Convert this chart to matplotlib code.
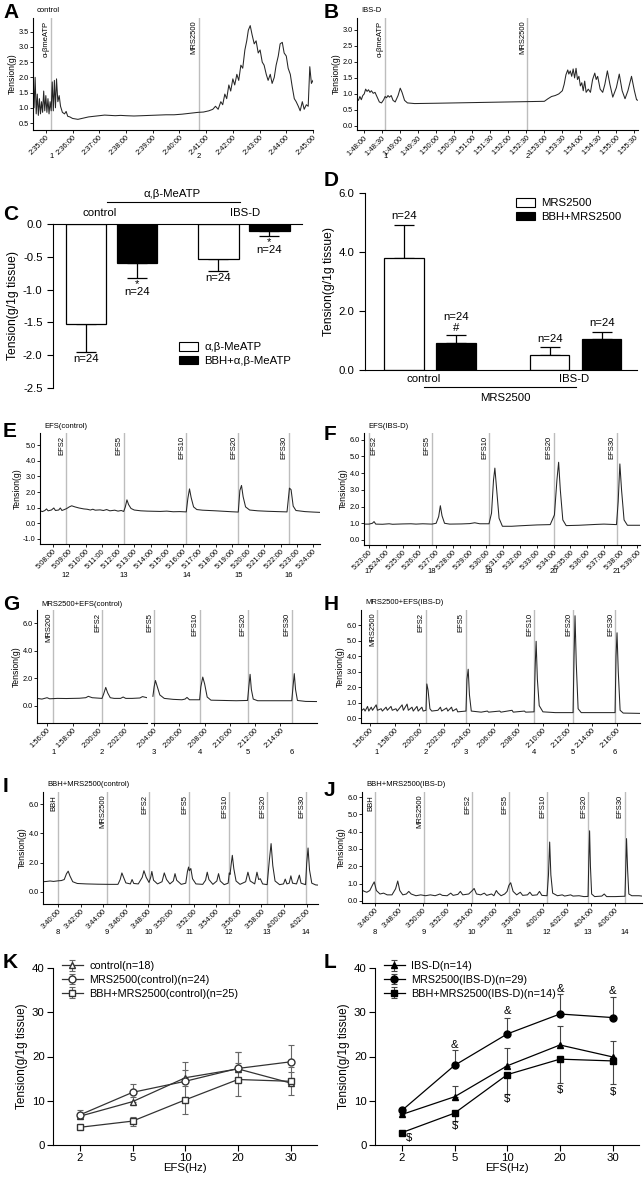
import numpy as np
import matplotlib
matplotlib.use("Agg")
import matplotlib.pyplot as plt
import matplotlib.transforms as mtrans
from matplotlib.patches import Patch

plt.rcParams['font.family'] = ['Liberation Sans', 'DejaVu Sans']
plt.rcParams['axes.linewidth'] = 0.8

W, H = 644, 1179
fig = plt.figure(figsize=(W / 100, H / 100), dpi=100)
FS = 8.2  # font size of the bar / curve panels

# ---------------- data ----------------
# A: control, alpha,beta-meATP then MRS2500 (minutes of 2:xx)
a_trace = [(34.52, 2.15), (34.56, 1.00), (34.60, 2.00), (34.64, 0.80), (34.68, 1.45), (34.72, 0.75),
           (34.76, 1.30), (34.80, 0.80), (34.84, 1.20), (34.88, 0.85), (34.92, 1.55), (34.96, 0.90),
           (35.00, 1.40), (35.04, 0.85), (35.08, 1.30), (35.12, 0.80), (35.16, 1.20), (35.20, 0.90),
           (35.24, 1.85), (35.28, 0.90), (35.32, 1.90), (35.36, 1.00), (35.40, 1.95), (35.45, 1.20),
           (35.50, 1.40), (35.55, 1.05), (35.62, 0.85), (35.70, 0.80), (35.76, 0.88), (35.82, 0.72),
           (35.90, 0.70), (36.00, 0.65), (36.20, 0.62), (36.40, 0.66), (36.60, 0.70), (36.80, 0.72),
           (37.00, 0.74), (37.20, 0.76), (37.40, 0.75), (37.60, 0.74), (37.80, 0.75), (38.00, 0.74),
           (38.30, 0.73), (38.60, 0.74), (38.90, 0.75), (39.20, 0.76), (39.50, 0.77), (39.80, 0.77),
           (40.10, 0.79), (40.40, 0.82), (40.70, 0.85), (40.90, 0.86), (41.10, 0.90), (41.25, 0.95),
           (41.35, 1.05), (41.45, 0.95), (41.55, 1.20), (41.62, 1.10), (41.70, 1.45), (41.77, 1.30),
           (41.85, 1.75), (41.92, 1.55), (42.00, 1.95), (42.07, 1.75), (42.15, 2.10), (42.22, 1.90),
           (42.30, 2.40), (42.37, 2.30), (42.45, 2.90), (42.52, 3.20), (42.58, 3.55), (42.65, 3.70),
           (42.72, 3.40), (42.80, 3.10), (42.87, 3.20), (42.95, 2.80), (43.02, 2.90), (43.10, 2.50),
           (43.17, 2.40), (43.25, 2.10), (43.32, 1.90), (43.40, 2.10), (43.47, 1.80), (43.55, 2.00),
           (43.62, 2.40), (43.70, 2.70), (43.77, 3.10), (43.85, 3.15), (43.92, 2.80), (44.00, 2.70),
           (44.07, 2.30), (44.15, 2.10), (44.22, 1.70), (44.30, 1.30), (44.37, 1.20), (44.45, 1.05),
           (44.52, 0.90), (44.60, 1.20), (44.67, 0.95), (44.75, 1.10), (44.82, 1.05), (44.88, 2.35),
           (44.94, 1.80), (45.00, 1.90)]
a_ticks = [35, 36, 37, 38, 39, 40, 41, 42, 43, 44, 45]
a_ticklabels = ["2:35:00", "2:36:00", "2:37:00", "2:38:00", "2:39:00", "2:40:00",
                "2:41:00", "2:42:00", "2:43:00", "2:44:00", "2:45:00"]
a_marks = [35.2, 40.73]
a_names = ["α-βmeATP", "MRS2500"]
a_nums = ["1", "2"]

# B: IBS-D (minutes of 1:xx)
b_trace = [(47.80, 0.85), (47.84, 0.80), (47.88, 0.92), (47.92, 0.82), (47.96, 0.95), (48.00, 1.00),
           (48.04, 1.15), (48.08, 1.08), (48.12, 1.13), (48.16, 1.05), (48.20, 1.10), (48.25, 1.02),
           (48.30, 1.05), (48.36, 0.90), (48.42, 0.75), (48.48, 0.72), (48.54, 0.82), (48.58, 0.92),
           (48.62, 0.88), (48.66, 0.95), (48.70, 0.90), (48.75, 0.95), (48.80, 0.80), (48.86, 0.75),
           (48.94, 0.95), (49.00, 1.18), (49.05, 1.05), (49.12, 0.80), (49.20, 0.72), (49.40, 0.70),
           (50.00, 0.71), (50.50, 0.72), (51.00, 0.73), (51.50, 0.74), (52.00, 0.75), (52.50, 0.76),
           (53.00, 0.77), (53.10, 0.85), (53.20, 0.92), (53.30, 0.95), (53.40, 1.00), (53.45, 1.05),
           (53.50, 1.10), (53.55, 1.30), (53.60, 1.60), (53.65, 1.75), (53.68, 1.62), (53.72, 1.72),
           (53.76, 1.55), (53.80, 1.78), (53.84, 1.50), (53.88, 1.80), (53.92, 1.45), (53.96, 1.55),
           (54.00, 1.25), (54.04, 1.35), (54.08, 1.10), (54.12, 1.40), (54.16, 1.05), (54.22, 1.15),
           (54.28, 1.05), (54.34, 1.45), (54.40, 1.65), (54.44, 1.45), (54.48, 1.55), (54.55, 1.15),
           (54.62, 1.05), (54.68, 1.30), (54.75, 1.72), (54.82, 1.30), (54.90, 0.90), (55.00, 1.20),
           (55.08, 1.62), (55.16, 1.10), (55.24, 0.85), (55.32, 1.10), (55.42, 1.55), (55.50, 1.10),
           (55.56, 0.82), (55.60, 0.80)]
b_ticks = [48.0, 48.5, 49.0, 49.5, 50.0, 50.5, 51.0, 51.5, 52.0, 52.5, 53.0, 53.5, 54.0, 54.5, 55.0, 55.5]
b_ticklabels = ["1:48:00", "1:48:30", "1:49:00", "1:49:30", "1:50:00", "1:50:30", "1:51:00", "1:51:30",
                "1:52:00", "1:52:30", "1:53:00", "1:53:30", "1:54:00", "1:54:30", "1:55:00", "1:55:30"]
b_marks = [48.58, 52.53]
b_names = ["α-βmeATP", "MRS2500"]
b_nums = ["1", "2"]

# C: alpha,beta-MeATP responses
groups = ["control", "IBS-D"]
c_plain = [-1.53, -0.54]
c_plain_err = [0.42, 0.17]
c_bbh = [-0.60, -0.10]
c_bbh_err = [0.23, 0.09]

# D: MRS2500 responses
d_plain = [3.78, 0.52]
d_plain_err = [1.14, 0.25]
d_bbh = [0.93, 1.05]
d_bbh_err = [0.25, 0.25]

# E: EFS(control) (minutes of 5:xx)
e_trace = [(7.20, 0.80), (7.35, 0.75), (7.50, 0.82), (7.60, 0.92), (7.70, 0.80), (7.90, 0.85), (8.05, 0.98),
           (8.15, 0.82), (8.35, 0.85), (8.45, 0.98), (8.55, 0.82), (8.70, 0.88), (8.85, 0.95), (9.00, 1.05),
           (9.15, 1.12), (9.35, 1.05), (9.60, 0.98), (9.90, 0.92), (10.10, 0.90), (10.30, 0.85), (10.45, 0.90),
           (10.60, 0.84), (10.90, 0.86), (11.10, 0.82), (11.30, 0.88), (11.50, 0.80), (11.80, 0.84),
           (12.00, 0.78), (12.20, 0.82), (12.35, 0.76), (12.45, 1.05), (12.55, 1.50), (12.65, 1.20),
           (12.80, 0.95), (13.00, 0.85), (13.40, 0.80), (13.80, 0.78), (14.20, 0.77), (14.60, 0.76),
           (15.00, 0.78), (15.40, 0.74), (15.80, 0.75), (16.20, 0.73), (16.30, 1.60), (16.40, 2.20),
           (16.50, 1.65), (16.65, 1.05), (16.85, 0.88), (17.20, 0.84), (17.60, 0.82), (18.00, 0.80),
           (18.50, 0.77), (19.00, 0.74), (19.40, 0.72), (19.50, 2.10), (19.60, 2.42), (19.70, 1.70),
           (19.85, 1.05), (20.10, 0.85), (20.60, 0.80), (21.20, 0.77), (21.80, 0.75), (22.40, 0.73),
           (22.55, 2.25), (22.65, 2.15), (22.78, 1.10), (22.95, 0.82), (23.50, 0.75), (24.00, 0.72),
           (24.43, 0.70)]
e_ticks = list(range(8, 25))
e_ticklabels = ["5:08:00", "5:09:00", "5:10:00", "5:11:00", "5:12:00", "5:13:00", "5:14:00", "5:15:00",
                "5:16:00", "5:17:00", "5:18:00", "5:19:00", "5:20:00", "5:21:00", "5:22:00", "5:23:00",
                "5:24:00"]
e_marks = [8.8, 12.35, 16.2, 19.4, 22.5]
efs_names = ["EFS2", "EFS5", "EFS10", "EFS20", "EFS30"]
e_nums = ["12", "13", "14", "15", "16"]

# F: EFS(IBS-D)
f_trace = [(22.70, 0.95), (23.00, 0.95), (23.20, 1.00), (23.30, 1.10), (23.40, 0.95), (23.80, 0.94),
           (24.20, 0.97), (24.40, 0.94), (25.00, 0.96), (25.50, 0.97), (25.80, 0.95), (26.20, 0.97),
           (26.75, 0.95), (27.00, 1.00), (27.15, 1.40), (27.25, 2.05), (27.35, 1.45), (27.50, 1.00),
           (27.80, 0.95), (28.50, 0.96), (29.00, 0.98), (29.30, 1.03), (29.60, 0.97), (30.15, 0.97),
           (30.30, 1.60), (30.42, 3.60), (30.50, 4.30), (30.60, 3.10), (30.75, 1.30), (30.95, 0.82),
           (31.50, 0.82), (32.00, 0.85), (33.00, 0.90), (33.80, 0.92), (34.05, 1.50), (34.20, 3.60),
           (34.30, 4.65), (34.40, 3.00), (34.55, 1.20), (34.75, 0.86), (35.50, 0.88), (36.50, 0.93),
           (37.00, 0.95), (37.75, 0.92), (37.85, 2.30), (37.95, 4.55), (38.05, 3.00), (38.20, 1.20),
           (38.40, 0.88), (39.15, 0.88)]
f_ticks = list(range(23, 40))
f_ticklabels = ["5:23:00", "5:24:00", "5:25:00", "5:26:00", "5:27:00", "5:28:00", "5:29:00", "5:30:00",
                "5:31:00", "5:32:00", "5:33:00", "5:34:00", "5:35:00", "5:36:00", "5:37:00", "5:38:00",
                "5:39:00"]
f_marks = [23.0, 26.75, 30.15, 34.0, 37.75]
f_nums = ["17", "18", "19", "20", "21"]

# G: MRS2500+EFS(control), recording broken in two parts (minutes after 1:00)
g_trace_1 = [(55.22, 0.55), (55.60, 0.50), (56.00, 0.60), (56.20, 0.52), (56.80, 0.55), (57.50, 0.54),
             (58.50, 0.56), (59.00, 0.60), (59.20, 0.70), (59.50, 0.60), (60.26, 0.55), (60.40, 0.90),
             (60.55, 1.35), (60.70, 0.95), (60.90, 0.60), (61.20, 0.55), (61.70, 0.55), (61.90, 0.65),
             (62.10, 0.55), (62.60, 0.55), (63.20, 0.58), (63.40, 0.68), (63.75, 0.60)]
g_trace_2 = [(63.90, 0.70), (64.00, 1.40), (64.10, 1.85), (64.25, 1.40), (64.45, 0.80), (64.80, 0.55),
             (65.50, 0.48), (66.20, 0.45), (66.45, 0.50), (66.60, 0.62), (66.80, 0.45), (67.60, 0.45),
             (67.70, 1.40), (67.85, 2.10), (68.00, 1.60), (68.20, 0.65), (68.50, 0.42), (69.50, 0.40),
             (70.50, 0.38), (71.40, 0.40), (71.50, 1.40), (71.60, 2.30), (71.70, 1.20), (71.85, 0.50),
             (72.20, 0.38), (73.50, 0.38), (74.90, 0.38), (75.00, 1.40), (75.10, 2.35), (75.20, 1.20),
             (75.35, 0.40), (76.00, 0.33), (76.90, 0.32)]
g_ticks_1 = [56, 58, 60, 62]
g_ticklabels_1 = ["1:56:00", "1:58:00", "2:00:00", "2:02:00"]
g_ticks_2 = [64, 66, 68, 70, 72, 74]
g_ticklabels_2 = ["2:04:00", "2:06:00", "2:08:00", "2:10:00", "2:12:00", "2:14:00"]
g_marks = [56.47, 60.26, 64.0, 67.6, 71.4, 74.9]
g_names = ["MRS200", "EFS2", "EFS5", "EFS10", "EFS20", "EFS30"]
g_nums = ["1", "2", "3", "4", "5", "6"]

# H: MRS2500+EFS(IBS-D)
h_trace = [(55.27, 0.45), (55.50, 0.60), (55.60, 0.45), (55.80, 0.75), (55.90, 0.45), (56.10, 0.70),
           (56.20, 0.50), (56.50, 0.85), (56.60, 0.50), (56.90, 0.60), (57.00, 0.45), (57.30, 0.70),
           (57.40, 0.50), (57.70, 0.75), (57.80, 0.50), (58.10, 0.60), (58.20, 0.45), (58.60, 0.85),
           (58.70, 0.50), (59.00, 0.90), (59.10, 0.50), (59.40, 0.70), (59.50, 0.45), (59.80, 0.75),
           (59.90, 0.45), (60.20, 0.70), (60.30, 0.45), (60.53, 0.50), (60.60, 2.20), (60.70, 1.80),
           (60.85, 0.60), (61.00, 0.45), (61.50, 0.50), (61.70, 0.70), (61.80, 0.45), (62.20, 0.65),
           (62.30, 0.45), (62.60, 0.70), (62.70, 0.45), (63.00, 0.60), (63.10, 0.40), (63.77, 0.45),
           (63.85, 2.50), (63.95, 3.15), (64.05, 1.50), (64.20, 0.45), (65.00, 0.38), (65.50, 0.45),
           (65.60, 0.38), (66.50, 0.45), (66.60, 0.38), (67.50, 0.50), (67.60, 0.38), (68.50, 0.45),
           (68.60, 0.38), (69.28, 0.40), (69.38, 3.50), (69.45, 4.95), (69.55, 2.50), (69.70, 0.80),
           (70.00, 0.40), (71.00, 0.35), (72.44, 0.35), (72.52, 4.00), (72.60, 6.60), (72.70, 3.50),
           (72.85, 0.60), (73.10, 0.35), (75.84, 0.35), (75.92, 4.00), (76.00, 5.50), (76.10, 3.00),
           (76.25, 0.50), (76.50, 0.32), (77.86, 0.30)]
h_ticks = [56, 58, 60, 62, 64, 66, 68, 70, 72, 74, 76]
h_ticklabels = ["1:56:00", "1:58:00", "2:00:00", "2:02:00", "2:04:00", "2:06:00",
                "2:08:00", "2:10:00", "2:12:00", "2:14:00", "2:16:00"]
h_marks = [56.57, 60.53, 63.77, 69.28, 72.44, 75.84]
h_names = ["MRS2500", "EFS2", "EFS5", "EFS10", "EFS20", "EFS30"]
h_nums = ["1", "2", "3", "4", "5", "6"]

# I: BBH+MRS2500(control) (minutes after 3:00)
i_trace = [(38.67, 0.70), (39.00, 0.72), (39.30, 0.75), (39.60, 0.72), (40.00, 0.76), (40.30, 0.78),
           (40.55, 0.85), (40.75, 1.25), (40.90, 1.42), (41.05, 1.10), (41.30, 0.70), (41.70, 0.58),
           (42.50, 0.55), (43.50, 0.53), (44.50, 0.52), (45.30, 0.52), (45.50, 0.85), (45.65, 1.30),
           (45.80, 1.00), (46.00, 0.62), (46.40, 0.55), (46.55, 0.85), (46.70, 0.58), (47.10, 0.55),
           (47.45, 1.00), (47.60, 1.45), (47.80, 1.00), (48.05, 0.65), (48.20, 1.00), (48.30, 1.40),
           (48.45, 0.80), (48.80, 0.55), (49.20, 0.70), (49.40, 1.30), (49.60, 0.85), (49.90, 0.55),
           (50.20, 0.75), (50.35, 1.25), (50.50, 0.80), (50.90, 0.52), (51.30, 0.60), (51.45, 1.40),
           (51.55, 1.70), (51.62, 1.45), (51.75, 1.60), (51.90, 0.90), (52.20, 0.55), (52.80, 0.52),
           (53.05, 0.80), (53.20, 1.35), (53.35, 0.85), (53.70, 0.52), (54.05, 0.75), (54.20, 1.25),
           (54.35, 0.75), (54.70, 0.50), (55.05, 0.60), (55.15, 1.30), (55.22, 1.20), (55.32, 1.90),
           (55.42, 2.50), (55.55, 1.60), (55.75, 0.75), (56.10, 0.52), (56.60, 0.70), (56.80, 1.35),
           (57.00, 0.75), (57.40, 0.55), (57.60, 1.35), (57.75, 0.85), (57.90, 0.90), (58.10, 0.55),
           (58.50, 0.50), (58.70, 2.20), (58.85, 3.30), (59.00, 1.80), (59.20, 0.75), (59.60, 0.50),
           (59.95, 0.55), (60.10, 0.88), (60.25, 0.55), (60.45, 0.60), (60.60, 1.10), (60.75, 0.60),
           (61.10, 0.55), (61.35, 1.15), (61.50, 0.60), (61.90, 0.50), (62.00, 1.95), (62.12, 3.00),
           (62.25, 1.50), (62.45, 0.60), (62.80, 0.48), (63.00, 0.47)]
i_ticks = [40, 42, 44, 46, 48, 50, 52, 54, 56, 58, 60, 62]
i_ticklabels = ["3:40:00", "3:42:00", "3:44:00", "3:46:00", "3:48:00", "3:50:00",
                "3:52:00", "3:54:00", "3:56:00", "3:58:00", "4:00:00", "4:02:00"]
i_marks = [40.0, 44.34, 48.05, 51.6, 55.13, 58.5, 61.95]
bbh_names = ["BBH", "MRS2500", "EFS2", "EFS5", "EFS10", "EFS20", "EFS30"]
i_nums = ["8", "9", "10", "11", "12", "13", "14"]

# J: BBH+MRS2500(IBS-D)
j_trace = [(44.90, 0.62), (45.10, 0.55), (45.30, 0.50), (45.55, 0.60), (45.80, 0.95), (45.92, 1.10),
           (46.10, 0.60), (46.40, 0.40), (46.70, 0.45), (47.00, 0.35), (47.40, 0.35), (47.70, 0.70),
           (47.88, 1.15), (48.05, 0.60), (48.30, 0.35), (48.60, 0.40), (48.80, 0.55), (49.00, 0.40),
           (49.40, 0.30), (49.80, 0.35), (50.20, 0.30), (50.60, 0.35), (51.00, 0.30), (51.40, 0.40),
           (51.60, 0.32), (52.00, 0.30), (52.30, 0.45), (52.50, 0.32), (52.90, 0.38), (53.10, 0.55),
           (53.30, 0.35), (53.80, 0.40), (54.10, 0.60), (54.25, 0.72), (54.45, 0.40), (54.80, 0.35),
           (55.10, 0.45), (55.30, 0.32), (55.70, 0.40), (55.90, 0.30), (56.10, 0.60), (56.25, 0.45),
           (56.50, 0.30), (56.80, 0.40), (57.00, 0.55), (57.15, 0.90), (57.30, 1.05), (57.50, 0.55),
           (57.80, 0.35), (58.10, 0.50), (58.30, 0.32), (58.70, 0.35), (58.90, 0.50), (59.10, 0.32),
           (59.50, 0.35), (59.70, 0.55), (59.90, 0.32), (60.33, 0.30), (60.45, 1.50), (60.55, 3.40),
           (60.65, 1.50), (60.80, 0.45), (61.20, 0.30), (61.60, 0.35), (61.80, 0.28), (62.30, 0.35),
           (62.50, 0.28), (63.00, 0.30), (63.40, 0.25), (63.75, 0.26), (63.82, 2.50), (63.88, 4.05),
           (63.95, 2.00), (64.05, 0.40), (64.30, 0.25), (64.90, 0.28), (65.10, 0.40), (65.30, 0.25),
           (66.00, 0.25), (66.83, 0.27), (66.90, 2.00), (66.96, 3.60), (67.05, 1.80), (67.15, 0.40),
           (67.40, 0.30), (68.00, 0.30), (68.25, 0.28)]
j_ticks = [46, 48, 50, 52, 54, 56, 58, 60, 62, 64, 66]
j_ticklabels = ["3:46:00", "3:48:00", "3:50:00", "3:52:00", "3:54:00", "3:56:00",
                "3:58:00", "4:00:00", "4:02:00", "4:04:00", "4:06:00"]
j_marks = [46.0, 50.08, 54.08, 57.17, 60.33, 63.75, 66.83]
j_nums = ["8", "9", "10", "11", "12", "13", "14"]

# K / L: frequency-response curves
efs_hz = ["2", "5", "10", "20", "30"]
k_ctrl = [6.5, 9.8, 15.2, 17.2, 14.0]
k_ctrl_err = [0.8, 1.0, 1.7, 3.8, 2.5]
k_mrs = [6.8, 11.9, 14.4, 17.3, 18.8]
k_mrs_err = [1.2, 1.8, 4.4, 3.8, 3.7]
k_bbh = [4.0, 5.4, 10.2, 14.8, 14.4]
k_bbh_err = [0.4, 1.0, 3.1, 3.8, 3.2]
l_ibs = [6.9, 10.9, 17.9, 22.6, 19.9]
l_ibs_err = [0.6, 2.4, 4.0, 4.2, 3.5]
l_mrs = [7.8, 18.0, 25.1, 29.6, 28.8]
l_mrs_err = [0.6, 3.4, 3.7, 4.6, 4.7]
l_bbh = [2.8, 7.2, 15.9, 19.4, 19.0]
l_bbh_err = [0.4, 1.7, 4.3, 5.4, 5.3]
l_amp_y = [None, 22.6, 30.2, 35.2, 34.8]
l_dollar_y = [1.6, 4.3, 10.4, 12.4, 12.0]


# ---------------- helpers ----------------
def px_axes(l, t, r, b):
    return fig.add_axes([l / W, 1 - b / H, (r - l) / W, (b - t) / H])


def fx(x):
    return x / W


def fy(y):
    return 1 - y / H


def panel_letter(s, x, y):
    fig.text(fx(x), fy(y), s, fontsize=15, fontweight='bold', ha='left', va='center')


def style_trace(ax, xlim, ylim, yticks, ylabels, left=True):
    ax.set_xlim(*xlim)
    ax.set_ylim(*ylim)
    for sp in ['top', 'right']:
        ax.spines[sp].set_visible(False)
    if left:
        ax.set_yticks(yticks)
        ax.set_yticklabels(ylabels, fontsize=5.3)
        ax.set_ylabel("Tension(g)", fontsize=6.2, labelpad=1)
    else:
        ax.spines['left'].set_visible(False)
        ax.set_yticks([])
    ax.tick_params(length=2, width=0.6, pad=1)


def set_time_ticks(ax, ticks, labels):
    ax.set_xticks(ticks)
    ax.set_xticklabels(labels, fontsize=5.4, rotation=45, ha='right', rotation_mode='anchor')


def draw_marks(ax, marks, names, nums, num_y, right_first=False):
    tr = mtrans.blended_transform_factory(ax.transData, fig.transFigure)
    for k, (x, nm, nu) in enumerate(zip(marks, names, nums)):
        ax.axvline(x, color='#bdbdbd', lw=1.0, zorder=1)
        if right_first and k == 0:
            off, ha = 1.0, 'left'
        else:
            off, ha = -0.8, 'right'
        ax.annotate(nm, (x, 1.0), xycoords=('data', 'axes fraction'), xytext=(off, -2),
                    textcoords='offset points', rotation=90, ha=ha, va='top', fontsize=5.5)
        ax.text(x, fy(num_y), nu, transform=tr, ha='center', va='center', fontsize=5.5, clip_on=False)


def draw_trace(ax, data):
    t = [p[0] for p in data]
    v = [p[1] for p in data]
    ax.plot(t, v, color='#262626', lw=0.75, zorder=2)


def trace_panel(box, data, xlim, ylim, yticks, ylabels, ticks, labels, marks, names, nums, num_y, title,
                right_first=False):
    ax = px_axes(*box)
    style_trace(ax, xlim, ylim, yticks, ylabels)
    set_time_ticks(ax, ticks, labels)
    draw_marks(ax, marks, names, nums, num_y, right_first)
    draw_trace(ax, data)
    fig.text(fx(box[0] + 4), fy(box[1] - 7), title, fontsize=5.5, ha='left', va='center')
    return ax


def fmt(vals):
    return ["%.1f" % v for v in vals]


# ---------------- A / B ----------------
panel_letter("A", 3, 13)
y = [0.5, 1.0, 1.5, 2.0, 2.5, 3.0, 3.5]
trace_panel((33, 18, 313, 130), a_trace, (34.52, 45.0), (0.27, 3.95), y, fmt(y),
            a_ticks, a_ticklabels, a_marks, a_names, a_nums, 156, "control")

panel_letter("B", 324, 13)
y = [0.0, 0.5, 1.0, 1.5, 2.0, 2.5, 3.0]
trace_panel((357, 18, 638, 130), b_trace, (47.80, 55.60), (-0.125, 3.37), y, fmt(y),
            b_ticks, b_ticklabels, b_marks, b_names, b_nums, 156, "IBS-D")

# ---------------- C ----------------
panel_letter("C", 3, 215)
axc = px_axes(53, 224, 302, 388)
cx = np.array([0.5, 3.1])
bw = 0.8
axc.bar(cx - 0.5, c_plain, bw, color='white', edgecolor='black', lw=0.9, zorder=2)
axc.bar(cx + 0.5, c_bbh, bw, color='black', edgecolor='black', lw=0.9, zorder=2)
axc.errorbar(cx - 0.5, c_plain, yerr=[c_plain_err, [0, 0]], fmt='none', ecolor='black',
             elinewidth=0.9, capsize=7, capthick=0.9, zorder=1)
axc.errorbar(cx + 0.5, c_bbh, yerr=[c_bbh_err, [0, 0]], fmt='none', ecolor='black',
             elinewidth=0.9, capsize=7, capthick=0.9, zorder=1)
axc.set_xlim(-0.65, 4.24)
axc.set_ylim(-2.5, 0)
axc.spines['bottom'].set_visible(False)
axc.spines['right'].set_visible(False)
axc.set_xticks([])
yc = [-2.5, -2.0, -1.5, -1.0, -0.5, 0.0]
axc.set_yticks(yc)
axc.set_yticklabels(fmt(yc), fontsize=FS)
axc.tick_params(axis='y', length=4, width=0.8)
axc.set_ylabel("Tension(g/1g tissue)", fontsize=FS + 0.5, labelpad=3)
for i in range(2):
    lo_p = c_plain[i] - c_plain_err[i]
    lo_b = c_bbh[i] - c_bbh_err[i]
    axc.text(cx[i] - 0.5, lo_p - 0.03, "n=24", ha='center', va='top', fontsize=FS)
    axc.text(cx[i] + 0.5, lo_b - 0.01, "*\nn=24", ha='center', va='top', fontsize=FS,
             linespacing=0.75, multialignment='center')
fig.text(fx(100), fy(213), "control", fontsize=FS, ha='center', va='center')
fig.text(fx(245), fy(213), "IBS-D", fontsize=FS, ha='center', va='center')
fig.text(fx(172), fy(194), "α,β-MeATP", fontsize=FS, ha='center', va='center')
fig.add_artist(plt.Line2D([fx(107), fx(240)], [fy(202), fy(202)], color='black', lw=0.8))
axc.legend(handles=[Patch(facecolor='white', edgecolor='black', lw=0.8, label="α,β-MeATP"),
                    Patch(facecolor='black', edgecolor='black', lw=0.8, label="BBH+α,β-MeATP")],
           loc='upper left', bbox_to_anchor=(fx(179), fy(342)), bbox_transform=fig.transFigure,
           frameon=False, fontsize=FS, handlelength=1.7, handleheight=0.8, handletextpad=0.5,
           labelspacing=0.3, borderpad=0, borderaxespad=0)

# ---------------- D ----------------
panel_letter("D", 324, 181)
axd = px_axes(365, 193, 637, 370)
dx = np.array([0.5, 3.3])
axd.bar(dx - 0.5, d_plain, 0.76, color='white', edgecolor='black', lw=0.9, zorder=2)
axd.bar(dx + 0.5, d_bbh, 0.76, color='black', edgecolor='black', lw=0.9, zorder=2)
axd.errorbar(dx - 0.5, d_plain, yerr=[[0, 0], d_plain_err], fmt='none', ecolor='black',
             elinewidth=0.9, capsize=7, capthick=0.9, zorder=1)
axd.errorbar(dx + 0.5, d_bbh, yerr=[[0, 0], d_bbh_err], fmt='none', ecolor='black',
             elinewidth=0.9, capsize=7, capthick=0.9, zorder=1)
axd.set_xlim(-0.75, 4.48)
axd.set_ylim(0, 6)
axd.spines['top'].set_visible(False)
axd.spines['right'].set_visible(False)
axd.set_xticks([])
yd = [0.0, 2.0, 4.0, 6.0]
axd.set_yticks(yd)
axd.set_yticklabels(fmt(yd), fontsize=FS)
axd.tick_params(axis='y', length=4, width=0.8)
axd.set_ylabel("Tension(g/1g tissue)", fontsize=FS + 0.5, labelpad=3)
axd.text(dx[0] - 0.5, d_plain[0] + d_plain_err[0] + 0.12, "n=24", ha='center', va='bottom', fontsize=FS)
axd.text(dx[0] + 0.5, d_bbh[0] + d_bbh_err[0] + 0.08, "#", ha='center', va='bottom', fontsize=FS)
axd.text(dx[0] + 0.5, d_bbh[0] + d_bbh_err[0] + 0.45, "n=24", ha='center', va='bottom', fontsize=FS)
axd.text(dx[1] - 0.5, d_plain[1] + d_plain_err[1] + 0.12, "n=24", ha='center', va='bottom', fontsize=FS)
axd.text(dx[1] + 0.5, d_bbh[1] + d_bbh_err[1] + 0.12, "n=24", ha='center', va='bottom', fontsize=FS)
fig.text(fx(424), fy(379), "control", fontsize=FS, ha='center', va='center')
fig.text(fx(574), fy(379), "IBS-D", fontsize=FS, ha='center', va='center')
fig.add_artist(plt.Line2D([fx(424), fx(576)], [fy(387), fy(387)], color='black', lw=0.8))
fig.text(fx(505), fy(398), "MRS2500", fontsize=FS, ha='center', va='center')
axd.legend(handles=[Patch(facecolor='white', edgecolor='black', lw=0.8, label="MRS2500"),
                    Patch(facecolor='black', edgecolor='black', lw=0.8, label="BBH+MRS2500")],
           loc='upper left', bbox_to_anchor=(fx(516), fy(198)), bbox_transform=fig.transFigure,
           frameon=False, fontsize=FS, handlelength=1.7, handleheight=0.8, handletextpad=0.5,
           labelspacing=0.3, borderpad=0, borderaxespad=0)

# ---------------- E / F ----------------
panel_letter("E", 3, 432)
y = [-1.0, 0.0, 1.0, 2.0, 3.0, 4.0, 5.0]
trace_panel((40, 433, 320, 544), e_trace, (7.2, 24.43), (-1.32, 5.77), y, fmt(y),
            e_ticks, e_ticklabels, e_marks, efs_names, e_nums, 576, "EFS(control)")

panel_letter("F", 324, 434)
y = [0.0, 1.0, 2.0, 3.0, 4.0, 5.0, 6.0]
trace_panel((364, 433, 640, 545), f_trace, (22.7, 39.15), (-0.3, 6.4), y, fmt(y),
            f_ticks, f_ticklabels, f_marks, efs_names, f_nums, 571, "EFS(IBS-D)", right_first=True)

# ---------------- G (broken axis) ----------------
panel_letter("G", 3, 605)
y = [0.0, 2.0, 4.0, 6.0]
g_ylim = (-1.24, 6.98)
axg1 = px_axes(37, 610, 147, 723)
style_trace(axg1, (55.22, 63.75), g_ylim, y, fmt(y))
set_time_ticks(axg1, g_ticks_1, g_ticklabels_1)
draw_marks(axg1, g_marks[:2], g_names[:2], g_nums[:2], 753)
draw_trace(axg1, g_trace_1)
axg2 = px_axes(151, 610, 317, 723)
style_trace(axg2, (63.75, 76.9), g_ylim, y, fmt(y), left=False)
set_time_ticks(axg2, g_ticks_2, g_ticklabels_2)
draw_marks(axg2, g_marks[2:], g_names[2:], g_nums[2:], 753)
draw_trace(axg2, g_trace_2)
fig.text(fx(41), fy(604), "MRS2500+EFS(control)", fontsize=5.5, ha='left', va='center')

# ---------------- H ----------------
panel_letter("H", 324, 605)
y = [0.0, 1.0, 2.0, 3.0, 4.0, 5.0, 6.0]
trace_panel((361, 610, 640, 723), h_trace, (55.27, 77.86), (-0.32, 6.97), y, fmt(y),
            h_ticks, h_ticklabels, h_marks, h_names, h_nums, 752, "MRS2500+EFS(IBS-D)")

# ---------------- I / J ----------------
panel_letter("I", 3, 786)
y = [0.0, 2.0, 4.0, 6.0]
trace_panel((43, 792, 318, 904), i_trace, (38.67, 63.0), (-0.82, 6.82), y, fmt(y),
            i_ticks, i_ticklabels, i_marks, bbh_names, i_nums, 933, "BBH+MRS2500(control)")

panel_letter("J", 324, 790)
y = [0.0, 1.0, 2.0, 3.0, 4.0, 5.0, 6.0]
trace_panel((362, 792, 642, 903), j_trace, (44.9, 68.25), (-0.12, 6.29), y, fmt(y),
            j_ticks, j_ticklabels, j_marks, bbh_names, j_nums, 933, "BBH+MRS2500(IBS-D)")


# ---------------- K / L ----------------
def curve_axes(box):
    ax = px_axes(*box)
    ax.set_xlim(-0.51, 4.5)
    ax.set_ylim(0, 40)
    ax.spines['top'].set_visible(False)
    ax.spines['right'].set_visible(False)
    ax.set_xticks(range(5))
    ax.set_xticklabels(efs_hz, fontsize=FS)
    ax.set_yticks([0, 10, 20, 30, 40])
    ax.set_yticklabels(["0", "10", "20", "30", "40"], fontsize=FS)
    ax.tick_params(length=4, width=0.8, pad=2)
    ax.set_xlabel("EFS(Hz)", fontsize=FS, labelpad=0)
    ax.set_ylabel("Tension(g/1g tissue)", fontsize=FS + 0.3, labelpad=3)
    return ax


LFS = 7.8  # legend font of K / L
xk = np.arange(5)
panel_letter("K", 3, 962)
axk = curve_axes((53, 968, 317, 1145))
ek = dict(elinewidth=0.8, capsize=2.5, capthick=0.8, ecolor='#666666')
axk.errorbar(xk, k_ctrl, yerr=[[0] * 5, k_ctrl_err], color='#333333', lw=0.9, marker='^', ms=5,
             mfc='white', mec='#333333', label="control(n=18)", **ek)
axk.errorbar(xk, k_mrs, yerr=[[0] * 5, k_mrs_err], color='#333333', lw=0.9, marker='o', ms=5,
             mfc='white', mec='#333333', label="MRS2500(control)(n=24)", **ek)
axk.errorbar(xk, k_bbh, yerr=[k_bbh_err, k_bbh_err], color='#333333', lw=0.9, marker='s', ms=5,
             mfc='white', mec='#333333', label="BBH+MRS2500(control)(n=25)", **ek)
h, lab = axk.get_legend_handles_labels()
axk.legend(h, lab, loc='upper left', bbox_to_anchor=(fx(62), fy(961)), bbox_transform=fig.transFigure,
           frameon=False, fontsize=LFS, handlelength=1.9, handletextpad=0.6, labelspacing=0.35,
           borderpad=0, borderaxespad=0)

panel_letter("L", 324, 962)
axl = curve_axes((375, 968, 639, 1145))
el = dict(elinewidth=0.8, capsize=2.5, capthick=0.8, ecolor='#444444')
axl.errorbar(xk, l_ibs, yerr=[[0] * 5, l_ibs_err], color='black', lw=0.9, marker='^', ms=5,
             label="IBS-D(n=14)", **el)
axl.errorbar(xk, l_mrs, yerr=[[0] * 5, l_mrs_err], color='black', lw=0.9, marker='o', ms=5,
             label="MRS2500(IBS-D)(n=29)", **el)
axl.errorbar(xk, l_bbh, yerr=[l_bbh_err, [0] * 5], color='black', lw=0.9, marker='s', ms=5,
             label="BBH+MRS2500(IBS-D)(n=14)", **el)
for i in range(5):
    if l_amp_y[i] is not None:
        axl.text(xk[i], l_amp_y[i], "&", ha='center', va='center', fontsize=FS)
    dx_off = 0.13 if i == 0 else 0.0
    axl.text(xk[i] + dx_off, l_dollar_y[i], "$", ha='center', va='center', fontsize=FS)
h, lab = axl.get_legend_handles_labels()
axl.legend(h, lab, loc='upper left', bbox_to_anchor=(fx(384), fy(961)), bbox_transform=fig.transFigure,
           frameon=False, fontsize=LFS, handlelength=1.9, handletextpad=0.6, labelspacing=0.35,
           borderpad=0, borderaxespad=0)

fig.savefig("out.png", dpi=100)
